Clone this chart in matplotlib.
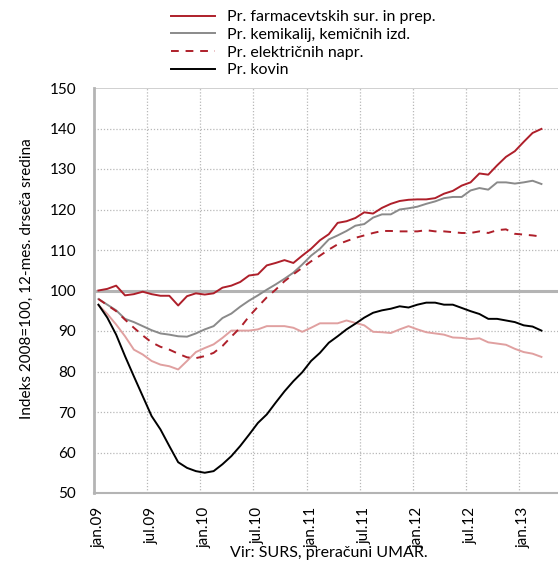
import matplotlib
matplotlib.use("Agg")
import matplotlib.pyplot as plt
import numpy as np

plt.rcParams['font.family'] = ['Lato', 'DejaVu Sans']

# Months jan.09 .. mar.13 (51 monthly points)
months = ['jan.09', 'feb.09', 'mar.09', 'apr.09', 'maj.09', 'jun.09', 'jul.09', 'avg.09', 'sep.09', 'okt.09', 'nov.09', 'dec.09',
          'jan.10', 'feb.10', 'mar.10', 'apr.10', 'maj.10', 'jun.10', 'jul.10', 'avg.10', 'sep.10', 'okt.10', 'nov.10', 'dec.10',
          'jan.11', 'feb.11', 'mar.11', 'apr.11', 'maj.11', 'jun.11', 'jul.11', 'avg.11', 'sep.11', 'okt.11', 'nov.11', 'dec.11',
          'jan.12', 'feb.12', 'mar.12', 'apr.12', 'maj.12', 'jun.12', 'jul.12', 'avg.12', 'sep.12', 'okt.12', 'nov.12', 'dec.12',
          'jan.13', 'feb.13', 'mar.13']
tick_labels = ['jan.09', 'jul.09', 'jan.10', 'jul.10', 'jan.11', 'jul.11', 'jan.12', 'jul.12', 'jan.13']

farm = [100.0, 100.4, 101.2, 98.8, 99.1, 99.7, 99.1, 98.7, 98.7, 96.3, 98.6, 99.3,
        99.0, 99.3, 100.7, 101.2, 102.1, 103.7, 104.0, 106.2, 106.8, 107.5, 106.8, 108.6,
        110.3, 112.4, 113.9, 116.7, 117.1, 117.9, 119.3, 119.0, 120.4, 121.4, 122.1, 122.4,
        122.5, 122.5, 122.8, 123.9, 124.6, 125.9, 126.7, 128.9, 128.6, 130.9, 133.0, 134.4,
        136.7, 138.9, 139.9]
kemi = [97.9, 96.5, 95.1, 93.0, 92.2, 91.2, 90.2, 89.4, 89.1, 88.7, 88.6, 89.4,
        90.4, 91.2, 93.2, 94.3, 96.0, 97.5, 98.8, 100.2, 101.5, 102.9, 104.4, 106.4,
        108.6, 110.3, 112.6, 113.6, 114.7, 116.0, 116.4, 118.0, 118.8, 118.8, 120.0, 120.3,
        120.7, 121.4, 122.0, 122.8, 123.1, 123.1, 124.7, 125.3, 124.9, 126.7, 126.7, 126.4,
        126.7, 127.1, 126.3]
elek = [97.9, 96.4, 94.9, 92.8, 90.8, 88.9, 87.2, 86.1, 85.4, 84.4, 83.5, 83.3,
        83.8, 84.6, 86.3, 88.6, 90.8, 93.6, 96.0, 98.3, 100.2, 102.3, 104.0, 105.6,
        107.2, 108.6, 110.1, 111.4, 112.2, 113.0, 113.6, 114.2, 114.7, 114.7, 114.6, 114.6,
        114.6, 114.9, 114.6, 114.6, 114.4, 114.2, 114.2, 114.6, 114.2, 114.9, 115.1, 114.0,
        113.8, 113.6, 113.3]
kovin = [96.5, 93.3, 89.1, 83.8, 78.8, 73.9, 69.0, 65.7, 61.6, 57.6, 56.2, 55.4,
         55.0, 55.4, 57.1, 59.1, 61.6, 64.4, 67.3, 69.4, 72.3, 75.1, 77.6, 79.8,
         82.6, 84.6, 87.1, 88.7, 90.4, 91.8, 93.3, 94.5, 95.1, 95.5, 96.1, 95.8,
         96.5, 97.0, 97.0, 96.5, 96.5, 95.7, 94.9, 94.2, 93.0, 93.0, 92.6, 92.2,
         91.4, 91.1, 90.1]
other = [96.4, 94.2, 91.6, 88.7, 85.4, 84.2, 82.6, 81.7, 81.3, 80.5, 82.6, 84.8,
         85.8, 86.7, 88.3, 90.1, 90.1, 90.1, 90.4, 91.2, 91.2, 91.2, 90.8, 89.8,
         90.8, 91.9, 91.9, 91.9, 92.6, 92.0, 91.4, 89.8, 89.7, 89.5, 90.4, 91.2,
         90.4, 89.7, 89.4, 89.1, 88.4, 88.3, 88.0, 88.2, 87.2, 86.9, 86.6, 85.6,
         84.8, 84.4, 83.6]

legend_labels = ['Pr. farmacevtskih sur. in prep.', 'Pr. kemikalij, kemičnih izd.',
                 'Pr. električnih napr.', 'Pr. kovin']

RED = '#AE1F2A'
GRAY = '#8A8A8A'
PINK = '#E0A0A0'
AXGRAY = '#B4B4B4'

fig = plt.figure(figsize=(5.58, 5.63), dpi=100)
ax = fig.add_axes([94/558, 70/563, 1 - 94/558 + 0.01, 405/563])

x = np.arange(len(months))
LW = 1.4
ax.plot(x, other, color=PINK, lw=LW, zorder=3)
l1, = ax.plot(x, farm, color=RED, lw=LW, zorder=4)
l2, = ax.plot(x, kemi, color=GRAY, lw=LW, zorder=4)
l3, = ax.plot(x, elek, color=RED, lw=LW, ls=(0, (4, 3.5)), zorder=4)
l4, = ax.plot(x, kovin, color='black', lw=LW, zorder=4)

ax.set_ylim(50, 150)
ax.set_xlim(-0.5, 52.5)
ax.set_yticks(np.arange(50, 151, 10))
tick_pos = [months.index(t) for t in tick_labels]
ax.set_xticks(tick_pos)
ax.set_xticklabels(tick_labels, rotation=90, fontsize=11)
ax.tick_params(axis='x', length=0, pad=10)
ax.tick_params(axis='y', length=0, pad=13, labelsize=11)

# gridlines
for yv in np.arange(60, 150, 10):
    if yv == 100:
        ax.axhline(yv, color=AXGRAY, lw=2.2, zorder=2)
    else:
        ax.axhline(yv, color='#B8B8B8', lw=0.9, ls=(0, (1, 1.5)), zorder=1)
ax.axhline(150, color='#C8C8C8', lw=1.2, zorder=1)
for xv in np.arange(5.5, 52, 6):
    ax.axvline(xv, color='#B8B8B8', lw=0.9, ls=(0, (1, 1.5)), zorder=1)

for s in ['top', 'right']:
    ax.spines[s].set_visible(False)
ax.spines['left'].set_color(AXGRAY)
ax.spines['left'].set_linewidth(2)
ax.spines['bottom'].set_color(AXGRAY)
ax.spines['bottom'].set_linewidth(1.5)

ax.set_ylabel('Indeks 2008=100, 12-mes. drseča sredina', fontsize=11)
ax.yaxis.set_label_coords(-0.128, 0.53)

fig.legend([l1, l2, l3, l4], legend_labels, loc='upper left',
           bbox_to_anchor=(171/558, 1 - 10/563), frameon=False, fontsize=11.5,
           handlelength=2.75, handletextpad=0.75, labelspacing=0.22,
           borderpad=0, borderaxespad=0)

fig.text(329/558, 1 - 553/563, 'Vir: SURS, preračuni UMAR.', ha='center', va='center', fontsize=11.5)

fig.savefig('out.png', dpi=100)
